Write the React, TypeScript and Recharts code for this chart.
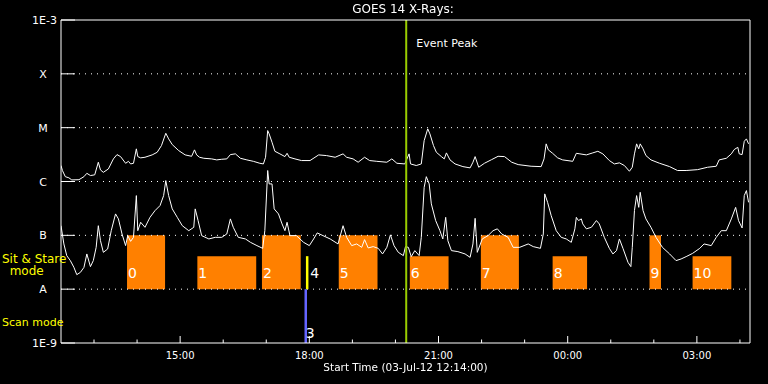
import { LineChart, Line, XAxis, YAxis, ReferenceLine, ReferenceArea } from "recharts";

// minutes after the start time (12:14), flux in W/m^2
const START_MINUTES = 12 * 60 + 14;
const SPAN_MINUTES = 16 * 60;

const FLUX_TICKS = [1e-9, 1e-8, 1e-7, 1e-6, 1e-5, 1e-4, 1e-3];
const FLUX_LABELS = ["1E-9", "A", "B", "C", "M", "X", "1E-3"];
const CLASS_LEVELS = [1e-8, 1e-7, 1e-6, 1e-5, 1e-4];

const EVENT_PEAK = 481;

// 1-8 A channel
const LONG_CHANNEL: [number, number][] = [
  [0, 1.98e-6], [2, 1.6e-6], [6, 1.23e-6], [11, 1.17e-6], [15, 1.07e-6], [25, 1.08e-6],
  [32, 1.23e-6], [36, 1.42e-6], [41, 1.29e-6], [47, 1.33e-6], [52, 2.28e-6], [55, 1.64e-6],
  [59, 1.48e-6], [66, 1.71e-6], [73, 2.63e-6], [78, 3.16e-6], [83, 2.9e-6], [90, 2.18e-6],
  [94, 2.37e-6], [97, 2.12e-6], [101, 2.18e-6], [105, 4.04e-6], [107, 2.9e-6], [111, 2.75e-6],
  [117, 2.82e-6], [127, 3.12e-6], [134, 3.49e-6], [140, 4.65e-6], [146, 7.87e-6], [150, 6.19e-6],
  [155, 4.85e-6], [164, 3.75e-6], [173, 3.12e-6], [182, 2.94e-6], [186, 3.87e-6], [189, 3.12e-6],
  [193, 2.82e-6], [199, 2.7e-6], [210, 2.63e-6], [217, 2.52e-6], [224, 2.59e-6], [231, 2.63e-6],
  [236, 3.16e-6], [243, 3.26e-6], [250, 2.7e-6], [259, 2.52e-6], [268, 2.37e-6], [277, 2.18e-6],
  [282, 2.12e-6], [285, 2.82e-6], [288, 8.83e-6], [290, 7.67e-6], [294, 5.36e-6], [298, 3.64e-6],
  [305, 3.26e-6], [312, 2.9e-6], [315, 3.34e-6], [318, 2.82e-6], [326, 2.63e-6], [335, 2.45e-6],
  [347, 2.45e-6], [359, 3.12e-6], [370, 3.03e-6], [382, 2.82e-6], [393, 3.26e-6], [398, 2.82e-6],
  [407, 2.63e-6], [414, 2.28e-6], [423, 2.82e-6], [430, 2.45e-6], [440, 2.37e-6], [454, 2.28e-6],
  [461, 2.63e-6], [468, 2.18e-6], [479, 2.12e-6], [485, 3.26e-6], [487, 2.12e-6], [495, 1.98e-6],
  [502, 2.12e-6], [506, 5.75e-6], [511, 9.5e-6], [514, 7.67e-6], [519, 4.65e-6], [523, 3.49e-6],
  [530, 2.9e-6], [534, 2.63e-6], [537, 3.4e-6], [542, 2.52e-6], [549, 2.12e-6], [560, 1.89e-6],
  [570, 1.79e-6], [574, 2.28e-6], [577, 2.9e-6], [582, 1.84e-6], [590, 2.18e-6], [600, 2.55e-6],
  [609, 2.94e-6], [618, 2.9e-6], [628, 2.28e-6], [637, 2.06e-6], [655, 1.92e-6], [669, 1.89e-6],
  [673, 2.63e-6], [676, 5.0e-6], [679, 3.87e-6], [685, 3.34e-6], [692, 2.75e-6], [699, 2.52e-6],
  [713, 2.37e-6], [718, 3.34e-6], [723, 3.26e-6], [732, 3.12e-6], [741, 3.4e-6], [748, 3.64e-6],
  [755, 3.26e-6], [764, 2.45e-6], [771, 2.12e-6], [778, 2.22e-6], [785, 1.98e-6], [792, 1.55e-6],
  [796, 1.84e-6], [799, 3.26e-6], [802, 5.0e-6], [805, 4.04e-6], [807, 5.0e-6], [811, 4.04e-6],
  [815, 3.03e-6], [822, 2.52e-6], [834, 2.18e-6], [848, 1.89e-6], [859, 1.6e-6], [871, 1.6e-6],
  [887, 1.66e-6], [901, 1.84e-6], [913, 1.92e-6], [917, 2.52e-6], [927, 2.7e-6], [934, 3.26e-6],
  [938, 3.92e-6], [943, 4.32e-6], [945, 3.26e-6], [949, 3.16e-6], [952, 5.58e-6], [955, 6.19e-6],
  [958, 5.0e-6],
];

// 0.5-4 A channel
const SHORT_CHANNEL: [number, number][] = [
  [0, 1.51e-7], [4, 6.92e-8], [8, 4.2e-8], [13, 3.39e-8], [18, 2.54e-8], [22, 1.86e-8],
  [27, 2.05e-8], [32, 2.54e-8], [36, 4.51e-8], [41, 2.62e-8], [45, 3.39e-8], [49, 5.98e-8],
  [52, 1.51e-7], [55, 7.96e-8], [59, 4.83e-8], [65, 5.58e-8], [70, 1.22e-7], [76, 2.5e-7],
  [80, 2.02e-7], [85, 1.06e-7], [90, 6.44e-8], [93, 9.87e-8], [97, 7.73e-8], [101, 9.18e-8],
  [105, 5.47e-7], [107, 1.22e-7], [111, 1.75e-7], [117, 1.41e-7], [124, 2.16e-7], [131, 2.88e-7],
  [138, 3.57e-7], [143, 5.47e-7], [146, 1.04e-6], [150, 5.47e-7], [155, 3.1e-7], [162, 2.16e-7],
  [169, 1.51e-7], [178, 1.22e-7], [185, 1.41e-7], [187, 3.1e-7], [191, 1.88e-7], [196, 9.87e-8],
  [206, 8.57e-8], [215, 9.18e-8], [224, 9.18e-8], [231, 1.06e-7], [236, 2.02e-7], [240, 1.41e-7],
  [247, 9.18e-8], [257, 8.57e-8], [264, 7.41e-8], [273, 6.44e-8], [281, 5.73e-8], [284, 1.22e-7],
  [288, 1.6e-6], [290, 9.02e-7], [294, 9.02e-7], [297, 3.1e-7], [303, 2.5e-7], [308, 1.63e-7],
  [312, 1.22e-7], [315, 1.75e-7], [319, 9.87e-8], [328, 9.87e-8], [338, 7.41e-8], [346, 6.44e-8],
  [352, 8.57e-8], [357, 1.11e-7], [365, 9.87e-8], [375, 8.57e-8], [386, 6.92e-8], [393, 1.51e-7],
  [398, 9.18e-8], [405, 6.44e-8], [412, 6.92e-8], [419, 5.98e-8], [423, 8.32e-8], [428, 5.83e-8],
  [435, 6.17e-8], [442, 5.73e-8], [448, 4.51e-8], [454, 5.98e-8], [459, 1.02e-7], [464, 6.44e-8],
  [470, 4.83e-8], [477, 4.2e-8], [480, 6.17e-8], [484, 5.98e-8], [488, 4.02e-8], [493, 5.2e-8],
  [499, 4.2e-8], [502, 9.18e-8], [506, 7.8e-7], [509, 1.23e-6], [513, 9.02e-7], [516, 3.84e-7],
  [522, 1.88e-7], [528, 1.22e-7], [532, 8.57e-8], [536, 2.16e-7], [539, 7.96e-8], [544, 5.2e-8],
  [553, 4.98e-8], [563, 4.51e-8], [570, 3.9e-8], [574, 6.92e-8], [577, 2.07e-7], [580, 4.83e-8],
  [587, 8.57e-8], [595, 9.87e-8], [602, 1.22e-7], [608, 1.32e-7], [614, 1.06e-7], [623, 9.18e-8],
  [630, 5.98e-8], [639, 5.98e-8], [651, 6.92e-8], [658, 6.17e-8], [668, 5.73e-8], [672, 1.06e-7],
  [674, 5.89e-7], [678, 4.1e-7], [683, 2.32e-7], [690, 1.22e-7], [697, 9.18e-8], [704, 8.57e-8],
  [711, 7.41e-8], [716, 1.32e-7], [718, 2.16e-7], [721, 1.88e-7], [725, 2.02e-7], [727, 1.63e-7],
  [732, 1.32e-7], [739, 1.41e-7], [746, 1.88e-7], [750, 1.63e-7], [757, 9.18e-8], [764, 5.73e-8],
  [769, 4.51e-8], [774, 5.2e-8], [778, 8.57e-8], [783, 5.73e-8], [790, 3.15e-8], [794, 2.62e-8],
  [796, 5.98e-8], [799, 2.88e-7], [802, 5.47e-7], [805, 3.31e-7], [807, 6.3e-7], [811, 2.88e-7],
  [815, 2.02e-7], [822, 1.41e-7], [829, 9.18e-8], [838, 5.98e-8], [848, 4.51e-8], [857, 3.39e-8],
  [864, 3.64e-8], [871, 4.02e-8], [880, 4.62e-8], [890, 5.73e-8], [896, 6.92e-8], [906, 6.44e-8],
  [913, 9.18e-8], [920, 1.22e-7], [927, 1.22e-7], [934, 2.02e-7], [940, 3.31e-7], [944, 1.88e-7],
  [949, 1.37e-7], [952, 5.47e-7], [955, 6.78e-7], [958, 4.1e-7],
];

// observation windows: [label, start, end, top flux]
const SIT_AND_STARE: [string, number, number, number][] = [
  ["0", 92, 145, 1e-7],
  ["1", 190, 272, 4.1e-8],
  ["2", 280, 334, 1e-7],
  ["5", 387, 441, 1e-7],
  ["6", 486, 540, 4.1e-8],
  ["7", 585, 638, 1e-7],
  ["8", 685, 733, 4.1e-8],
  ["9", 820, 836, 1e-7],
  ["10", 880, 934, 4.1e-8],
];
// zero-length observations: [label, time, low flux, high flux, colour]
const SHORT_OBS: [string, number, number, number, string][] = [
  ["3", 341, 1e-9, 1e-8, "#6464ff"],
  ["4", 343, 1e-8, 4.1e-8, "#ffff00"],
];

const FONT = "'DejaVu Sans', sans-serif";

const hourTicks: number[] = [];
for (let m = 60 - (START_MINUTES % 60); m < SPAN_MINUTES; m += 60) hourTicks.push(m);

function clockLabel(m: number) {
  const total = (START_MINUTES + m) % (24 * 60);
  const h = Math.floor(total / 60);
  return { hour: h, text: `${String(h).padStart(2, "0")}:00` };
}

function BottomTick(props: any) {
  const { x, y, payload } = props;
  const { hour, text } = clockLabel(payload.value);
  const major = hour % 3 === 0;
  return (
    <g>
      <line x1={x} x2={x} y1={y} y2={y - (major ? 7 : 3.5)} stroke="#fff" />
      {major && (
        <text x={x} y={y + 16} textAnchor="middle" fill="#fff" fontSize={10} fontFamily={FONT}>
          {text}
        </text>
      )}
    </g>
  );
}

function TopTick(props: any) {
  const { x, y, payload } = props;
  const major = clockLabel(payload.value).hour % 3 === 0;
  return <line x1={x} x2={x} y1={y} y2={y + (major ? 7 : 3.5)} stroke="#fff" />;
}

function LeftTick(props: any) {
  const { x, y, payload } = props;
  const label = FLUX_LABELS[FLUX_TICKS.indexOf(payload.value)] ?? "";
  const numeric = label.startsWith("1E");
  return (
    <g>
      <line x1={x} x2={x + 14} y1={y} y2={y} stroke="#fff" />
      <text
        x={numeric ? x - 4 : x - 18}
        y={y + 4}
        textAnchor={numeric ? "end" : "middle"}
        fill="#fff"
        fontSize={11}
        fontFamily={FONT}
      >
        {label}
      </text>
    </g>
  );
}

function RightTick(props: any) {
  const { x, y } = props;
  return <line x1={x} x2={x - 14} y1={y} y2={y} stroke="#fff" />;
}

function ObsLabel(props: any) {
  const { viewBox, text, dx = 1, dy = -11 } = props;
  if (!viewBox) return null;
  return (
    <text
      x={viewBox.x + dx}
      y={viewBox.y + viewBox.height + dy}
      fill="#fff"
      fontSize={14}
      fontFamily={FONT}
    >
      {text}
    </text>
  );
}

function PeakLabel(props: any) {
  const { viewBox } = props;
  if (!viewBox) return null;
  return (
    <text x={viewBox.x + 10} y={viewBox.y + 27} fill="#fff" fontSize={11} fontFamily={FONT}>
      Event Peak
    </text>
  );
}

export default function App() {
  const longData = LONG_CHANNEL.map(([t, flux]) => ({ t, flux }));
  const shortData = SHORT_CHANNEL.map(([t, flux]) => ({ t, flux }));

  return (
    <div style={{ position: "fixed", left: 0, top: 0, width: 768, height: 384, background: "#000" }}>
      <LineChart width={768} height={384} margin={{ top: 0, right: 0, bottom: 0, left: 0 }}>
        <XAxis
          xAxisId="time"
          dataKey="t"
          type="number"
          domain={[0, SPAN_MINUTES]}
          ticks={hourTicks}
          interval={0}
          height={41}
          tickSize={0}
          tickMargin={0}
          tickLine={false}
          tick={BottomTick}
          axisLine={{ stroke: "#fff" }}
          allowDataOverflow
        />
        <XAxis
          xAxisId="top"
          orientation="top"
          type="number"
          domain={[0, SPAN_MINUTES]}
          ticks={hourTicks}
          interval={0}
          height={20}
          tickSize={0}
          tickMargin={0}
          tickLine={false}
          tick={TopTick}
          axisLine={{ stroke: "#fff" }}
        />
        <YAxis
          yAxisId="flux"
          type="number"
          scale="log"
          domain={[1e-9, 1e-3]}
          ticks={FLUX_TICKS}
          interval={0}
          width={61}
          tickSize={0}
          tickMargin={0}
          tickLine={false}
          tick={LeftTick}
          axisLine={{ stroke: "#fff" }}
          allowDataOverflow
        />
        <YAxis
          yAxisId="right"
          orientation="right"
          type="number"
          scale="log"
          domain={[1e-9, 1e-3]}
          ticks={FLUX_TICKS}
          interval={0}
          width={18}
          tickSize={0}
          tickMargin={0}
          tickLine={false}
          tick={RightTick}
          axisLine={{ stroke: "#fff" }}
        />

        {CLASS_LEVELS.map((level) => (
          <ReferenceLine
            key={level}
            xAxisId="time"
            yAxisId="flux"
            y={level}
            stroke="#fff"
            strokeDasharray="1 5"
          />
        ))}

        {SIT_AND_STARE.map(([label, start, end, top]) => (
          <ReferenceArea
            key={label}
            xAxisId="time"
            yAxisId="flux"
            x1={start}
            x2={end}
            y1={1e-8}
            y2={top}
            fill="#ff8000"
            fillOpacity={1}
            stroke="none"
            label={<ObsLabel text={label} />}
          />
        ))}

        <Line
          data={longData}
          xAxisId="time"
          yAxisId="flux"
          dataKey="flux"
          type="linear"
          stroke="#fff"
          strokeWidth={1}
          dot={false}
          isAnimationActive={false}
        />
        <Line
          data={shortData}
          xAxisId="time"
          yAxisId="flux"
          dataKey="flux"
          type="linear"
          stroke="#fff"
          strokeWidth={1}
          dot={false}
          isAnimationActive={false}
        />

        {SHORT_OBS.map(([label, t, low, high, color]) => (
          <ReferenceLine
            key={label}
            xAxisId="time"
            yAxisId="flux"
            segment={[
              { x: t, y: low },
              { x: t, y: high },
            ]}
            stroke={color}
            strokeWidth={2.5}
            label={<ObsLabel text={label} dx={label === "3" ? 0 : 3} dy={label === "3" ? -5 : -11} />}
          />
        ))}

        <ReferenceLine
          xAxisId="time"
          yAxisId="flux"
          x={EVENT_PEAK}
          stroke="#99cc00"
          strokeWidth={2}
          label={<PeakLabel />}
        />
      </LineChart>

      <div style={{ position: "absolute", left: 0, top: 2, width: 806, textAlign: "center", color: "#fff", font: `12px ${FONT}` }}>
        GOES 14 X-Rays:
      </div>
      <div style={{ position: "absolute", left: 0, top: 361, width: 811, textAlign: "center", color: "#fff", font: `10.5px ${FONT}` }}>
        Start Time (03-Jul-12 12:14:00)
      </div>
      <div style={{ position: "absolute", left: 2, top: 253, color: "#ffff00", font: `12px ${FONT}`, lineHeight: "12px", whiteSpace: "pre" }}>
        {"Sit & Stare\n  mode"}
      </div>
      <div style={{ position: "absolute", left: 2, top: 316, color: "#ffff00", font: `11px ${FONT}`, whiteSpace: "pre" }}>
        Scan mode
      </div>
    </div>
  );
}
